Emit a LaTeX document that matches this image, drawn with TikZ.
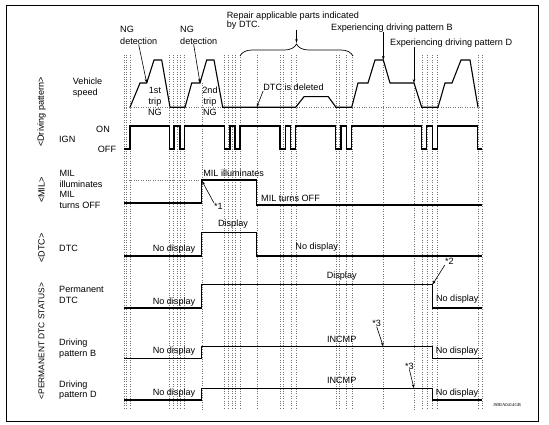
\documentclass[tikz,border=0pt]{standalone}
\usepackage{fontspec}
\setmainfont{Liberation Sans}
\newfontfamily\codefont{Liberation Serif}
\usetikzlibrary{arrows.meta, decorations.pathreplacing}

\begin{document}
\begin{tikzpicture}[x=1pt, y=-1pt,
        sig/.style={line width=1.1pt, line join=miter},
        guide/.style={dotted, line width=0.4pt, black!55},
        txt/.style={font=\fontsize{9.1}{10.8}\selectfont, inner sep=0pt, align=left},
        side/.style={txt, rotate=90},
        arr/.style={-{Stealth[length=4pt, width=2.6pt]}, line width=0.6pt}
    ]
        \useasboundingbox (0,0) rectangle (549,425);
        \draw[line width=1pt] (6,6) rectangle (538,421);

        % Vertical guide lines
        \foreach \x in {124,126.5,130, 169.5,173,176.7,180,184.5, 224.3,228.3,231.7,235,240, 256.7, 280,283.3,290.7,295.7, 335.7,339,346.3,351.7, 421.7,426.7,432.3,437.3, 477.7,482}
            \draw[guide] (\x,55) -- (\x,410);
        \draw[guide] (201.7,83) -- (201.7,410);
        \draw[guide] (383.3,60) -- (383.3,410);
        \draw[guide] (414,83) -- (414,410);

        % Group labels
        \node[side] (gDrive) at (41.5,112) {<Driving pattern>};
        \node[side] (gMil) at (41.5,190) {<MIL>};
        \node[side] (gDtc) at (41.5,248) {<DTC>};
        \node[side, font=\fontsize{8.4}{10}\selectfont] (gPerm) at (41.5,341) {<PERMANENT DTC STATUS>};

        % Top annotations
        \node[txt, anchor=west, font=\fontsize{9.1}{11.7}\selectfont] (ng1) at (120,35.2) {NG\\detection};
        \node[txt, anchor=west, font=\fontsize{9.1}{11.7}\selectfont] (ng2) at (180,35.2) {NG\\detection};
        \node[txt, anchor=west, font=\fontsize{9.1}{9.5}\selectfont] (repair) at (226.7,20.5) {Repair applicable parts indicated\\by DTC.};
        \node[txt, anchor=west] (expB) at (331,28) {Experiencing driving pattern B};
        \node[txt, anchor=west] (expD) at (390,42.7) {Experiencing driving pattern D};
        \coordinate (tipBrace) at (296.5,43);
        \draw[line width=0.7pt, decorate, decoration={brace, amplitude=12pt}] (240,56) -- (353,56);

        % Vehicle speed
        \node[txt, anchor=west] (speed) at (72.7,88) {Vehicle\\speed};
        \draw[guide] (124,107.3) -- (482,107.3);
        \draw[sig] (130,107.3) -- (140,83) -- (146.7,83) -- (154,60) -- (161.7,60) -- (170,107.3)
            -- (185,107.3) -- (191.7,83) -- (200,83) -- (206.7,60) -- (214,60) -- (222.7,107.3)
            -- (295.7,107.3) -- (304,96.7) -- (328.3,96.7) -- (336,107.3)
            -- (351.7,107.3) -- (358,83) -- (368,83) -- (375,60) -- (383.3,60) -- (390,83) -- (414,83) -- (421.7,107.3)
            -- (438,107.3) -- (445,83) -- (452,83) -- (461,60) -- (470,60) -- (478,107.3);
        \coordinate (tipNG1) at (146.7,83);
        \coordinate (tipNG2) at (200,83);
        \coordinate (tipB) at (383.3,60);
        \coordinate (tipD) at (414,83);
        \coordinate (tipDel) at (256.7,107.3);
        \node[txt, align=center, font=\fontsize{9.1}{11.2}\selectfont] (trip1) at (155,101.5) {1st\\trip\\NG};
        \node[txt, align=center, font=\fontsize{9.1}{11.2}\selectfont] (trip2) at (210,101.5) {2nd\\trip\\NG};
        \node[txt] (deleted) at (293.5,87.3) {DTC is deleted};

        \draw[arr] (ng1.south) -- (tipNG1);
        \draw[arr] ([xshift=-5pt]ng2.south) -- (tipNG2);
        \draw[arr] (repair.south -| tipBrace) -- (tipBrace);
        \draw[arr] (expB.south -| tipB) -- (tipB);
        \draw[arr] (expD.south -| tipD) -- (tipD);
        \draw[arr] (deleted.south west) -- (tipDel);

        % IGN
        \node[txt] (on) at (103,129.3) {ON};
        \node[txt, anchor=west] (ign) at (59,139.3) {IGN};
        \node[txt, anchor=west] (off) at (97.7,149) {OFF};
        \draw[sig] (124,149) -- (130,149) -- (130,126)
            \foreach \a/\b in {169.5/174, 180/184.5, 224.3/230, 235/240, 280/285.7, 290.7/295.7, 335.7/341, 346.3/351.7, 421.7/426.7, 432.3/437.3} {
                -- (\a,126) -- (\a,149) -- (\b,149) -- (\b,126)
            } -- (477.7,126) -- (477.7,149) -- (482,149);

        % MIL
        \node[txt, anchor=west] (mil) at (59.3,189.5) {MIL\\illuminates\\MIL\\turns OFF};
        \draw[guide] (124,180) -- (201.7,180);
        \draw[sig] (124,203) -- (201.7,203) -- (201.7,180) -- (256.7,180) -- (256.7,205) -- (482,205);
        \coordinate (tipMil) at (202,181);
        \node[txt] (milon) at (233.7,173.3) {MIL illuminates};
        \node[txt] (miloff) at (290.5,198.3) {MIL turns OFF};
        \node[txt] (st1) at (218.3,206) {*1};
        \draw[arr] (st1.north west) -- (tipMil);

        % DTC
        \node[txt, anchor=west] (dtc) at (59,248.3) {DTC};
        \draw[sig] (124,256) -- (201.7,256) -- (201.7,232.3) -- (256.7,232.3) -- (256.7,256) -- (482,256);
        \node[txt] (dsp1) at (233,224) {Display};
        \node[txt] (nd1) at (174,249) {No display};
        \node[txt] (nd2) at (316.7,247) {No display};

        % Permanent DTC
        \node[txt, anchor=west] (perm) at (59,295) {Permanent\\DTC};
        \draw[sig] (124,308) -- (201.7,308) -- (201.7,284.3) -- (432.3,284.3) -- (432.3,308) -- (482,308);
        \coordinate (tipPerm) at (432.5,284.5);
        \node[txt] (dsp2) at (341.7,275.7) {Display};
        \node[txt] (nd3) at (174,301.7) {No display};
        \node[txt] (nd4) at (457.3,299.3) {No display};
        \node[txt] (st2) at (449.3,261.7) {*2};
        \draw[arr] (st2.south west) -- (tipPerm);

        % Driving pattern B
        \node[txt, anchor=west] (patB) at (59,348.3) {Driving\\pattern B};
        \draw[sig] (124,358.3) -- (201.7,358.3) -- (201.7,346.7) -- (432.3,346.7) -- (432.3,358.3) -- (482,358.3);
        \coordinate (tipIncB) at (383.3,346.5);
        \node[txt] (inc1) at (341.7,339) {INCMP};
        \node[txt] (nd5) at (174,351) {No display};
        \node[txt] (nd6) at (457,351) {No display};
        \node[txt] (st3) at (376.7,323.3) {*3};
        \draw[arr] (st3.south) -- (tipIncB);

        % Driving pattern D
        \node[txt, anchor=west] (patD) at (59,390.2) {Driving\\pattern D};
        \draw[sig] (124,400) -- (201.7,400) -- (201.7,388.3) -- (432.3,388.3) -- (432.3,400) -- (482,400);
        \coordinate (tipIncD) at (414,388.3);
        \node[txt] (inc2) at (341.7,380) {INCMP};
        \node[txt] (nd7) at (174,393.3) {No display};
        \node[txt] (nd8) at (457,392.7) {No display};
        \node[txt] (st4) at (409.3,366) {*3};
        \draw[arr] (st4.south) -- (tipIncD);

        \node[inner sep=0pt, font=\codefont\fontsize{4.6}{5}\selectfont] (code) at (507,405) {JSBIA0414GB};
    \end{tikzpicture}
\end{document}
